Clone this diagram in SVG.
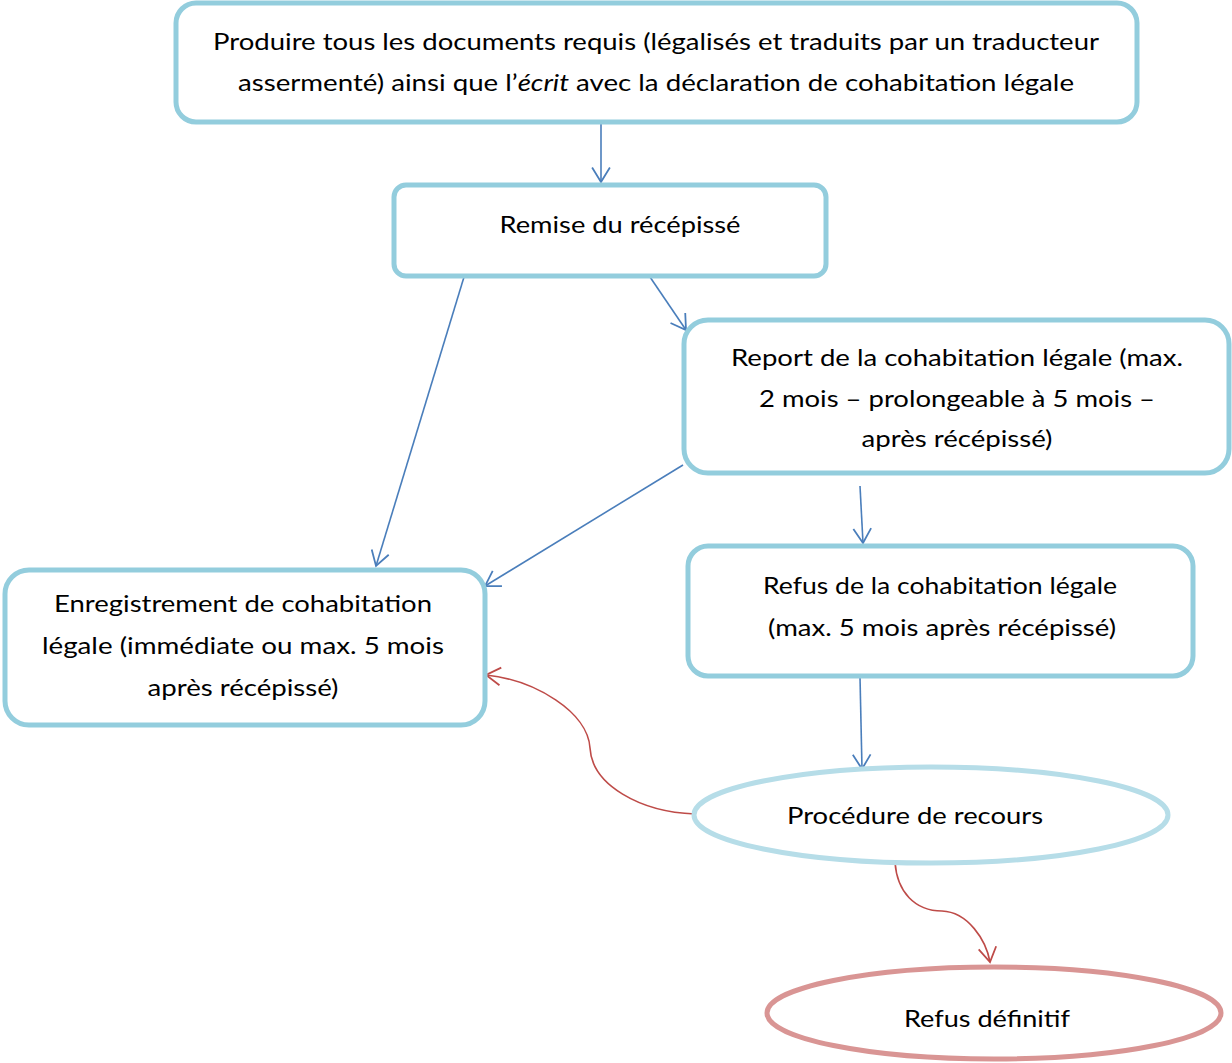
<svg xmlns="http://www.w3.org/2000/svg" width="1232" height="1063" viewBox="0 0 1232 1063">
<style>
.box{fill:#fff;stroke:#93CDDD;stroke-width:5}
.t{font-family:Lato,"Open Sans","Liberation Sans",sans-serif;font-size:24px;fill:#000;text-anchor:middle}
.b{fill:none;stroke:#4A7EBB;stroke-width:1.6}
.r{fill:none;stroke:#BE4B48;stroke-width:1.6}
</style>
<defs>
<marker id="ab" markerWidth="20" markerHeight="20" viewBox="-14 -9 16 18" refX="0" refY="0" orient="auto" markerUnits="userSpaceOnUse">
<path d="M-13,-8 L0,0 L-13,8" fill="none" stroke="#4A7EBB" stroke-width="1.6"/>
</marker>
<marker id="ar" markerWidth="20" markerHeight="20" viewBox="-14 -9 16 18" refX="0" refY="0" orient="auto" markerUnits="userSpaceOnUse">
<path d="M-13,-8 L0,0 L-13,8" fill="none" stroke="#BE4B48" stroke-width="1.6"/>
</marker>
</defs>
<g id="connectors">
<line class="b" x1="601" y1="122" x2="601" y2="182" marker-end="url(#ab)"/>
<line class="b" x1="464" y1="277" x2="376" y2="566" marker-end="url(#ab)"/>
<line class="b" x1="650" y1="277" x2="686" y2="330" marker-end="url(#ab)"/>
<line class="b" x1="683" y1="465" x2="485" y2="586" marker-end="url(#ab)"/>
<line class="b" x1="860" y1="486" x2="863" y2="543" marker-end="url(#ab)"/>
<line class="b" x1="860" y1="677" x2="862" y2="769" marker-end="url(#ab)"/>
<path class="r" d="M695,814 C640,812 592,785 590,748 C588,712 535,680 486,675" marker-end="url(#ar)"/>
<path class="r" d="M895,862 C897,892 915,911 942,911 C968,912 986,940 990,962" marker-end="url(#ar)"/>
</g>
<g id="n1">
<rect class="box" x="176" y="3" width="961" height="119" rx="20"/>
<text class="t" x="656" y="50" textLength="886" lengthAdjust="spacingAndGlyphs">Produire tous les documents requis (légalisés et traduits par un traducteur</text>
<text class="t" x="656" y="91" textLength="836" lengthAdjust="spacingAndGlyphs">assermenté) ainsi que l’<tspan font-style="italic">écrit</tspan> avec la déclaration de cohabitation légale</text>
</g>
<g id="n2">
<rect class="box" x="394" y="185" width="432" height="91" rx="12"/>
<text class="t" x="620" y="233" textLength="241" lengthAdjust="spacingAndGlyphs">Remise du récépissé</text>
</g>
<g id="n3">
<rect class="box" x="684" y="320" width="545" height="153" rx="24"/>
<text class="t" x="957" y="366" textLength="452" lengthAdjust="spacingAndGlyphs">Report de la cohabitation légale (max.</text>
<text class="t" x="957" y="407" textLength="396" lengthAdjust="spacingAndGlyphs">2 mois – prolongeable à 5 mois –</text>
<text class="t" x="957" y="447" textLength="191" lengthAdjust="spacingAndGlyphs">après récépissé)</text>
</g>
<g id="n4">
<rect class="box" x="5" y="570" width="480" height="155" rx="24"/>
<text class="t" x="243" y="612" textLength="378" lengthAdjust="spacingAndGlyphs">Enregistrement de cohabitation</text>
<text class="t" x="243" y="654" textLength="402" lengthAdjust="spacingAndGlyphs">légale (immédiate ou max. 5 mois</text>
<text class="t" x="243" y="696" textLength="191" lengthAdjust="spacingAndGlyphs">après récépissé)</text>
</g>
<g id="n5">
<rect class="box" x="688" y="546" width="505" height="130" rx="20"/>
<text class="t" x="940" y="594" textLength="354" lengthAdjust="spacingAndGlyphs">Refus de la cohabitation légale</text>
<text class="t" x="942" y="636" textLength="348" lengthAdjust="spacingAndGlyphs">(max. 5 mois après récépissé)</text>
</g>
<g id="n6">
<ellipse cx="931" cy="815" rx="237" ry="48" fill="#fff" stroke="#B6DDE8" stroke-width="5"/>
<text class="t" x="915" y="824" textLength="256" lengthAdjust="spacingAndGlyphs">Procédure de recours</text>
</g>
<g id="n7">
<ellipse cx="994" cy="1013" rx="227" ry="46" fill="#fff" stroke="#D99594" stroke-width="5"/>
<text class="t" x="987" y="1027" textLength="166" lengthAdjust="spacingAndGlyphs">Refus définitif</text>
</g>
</svg>
